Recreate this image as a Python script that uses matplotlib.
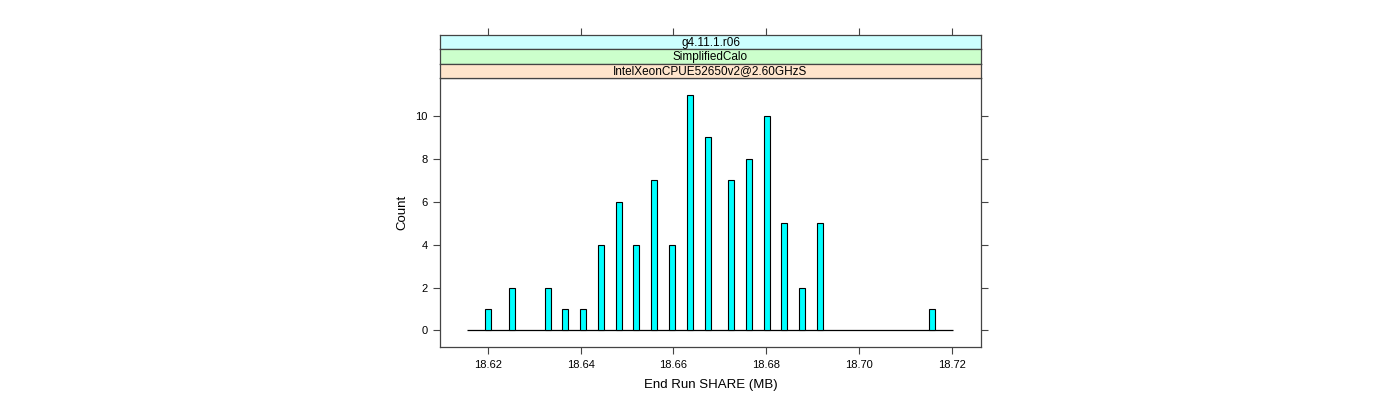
import numpy as np
import matplotlib.pyplot as plt

plt.rcParams['font.family'] = ['Liberation Sans', 'DejaVu Sans']

# histogram bars (bin centres, MB) and counts
share_mb = [18.6201, 18.6252, 18.6329, 18.6367, 18.6405, 18.6443, 18.6482,
            18.6520, 18.6559, 18.6597, 18.6635, 18.6674, 18.6725, 18.6762,
            18.6801, 18.6839, 18.6878, 18.6916, 18.7158]
counts = [1, 2, 2, 1, 1, 4, 6, 4, 7, 4, 11, 9, 7, 8, 10, 5, 2, 5, 1]
bin_width = 0.00128
hist_range = [18.6155, 18.7203]

strip_labels = ['g4.11.1.r06', 'SimplifiedCalo', 'IntelXeonCPUE52650v2@2.60GHzS']
strip_colors = ['#ccffff', '#ccffcc', '#ffe5cc']

x_ticks = [18.62, 18.64, 18.66, 18.68, 18.70, 18.72]
y_ticks = [0, 2, 4, 6, 8, 10]
xlim = (18.6097, 18.7263)
ylim = (-0.77, 11.77)

frame_col = '#444444'

fig = plt.figure(figsize=(14, 4), dpi=100)

# main panel
W, H = 1400., 400.
left, right, top, bottom = 440, 981, 78, 347
ax = fig.add_axes([left / W, 1 - bottom / H, (right - left) / W, (bottom - top) / H])

ax.bar(share_mb, counts, width=bin_width, color='#00ffff', edgecolor='black',
       linewidth=0.8, zorder=3)
ax.hlines(0, hist_range[0], hist_range[1], color='black', linewidth=0.9, zorder=2)

ax.set_xlim(xlim)
ax.set_ylim(ylim)
ax.set_xticks(x_ticks)
ax.set_xticklabels([f'{t:.2f}' for t in x_ticks])
ax.set_yticks(y_ticks)
ax.tick_params(axis='both', direction='out', length=5, width=0.8, color=frame_col,
               labelsize=8, pad=4)
ax.tick_params(axis='y', right=True, labelright=False)
for s in ax.spines.values():
    s.set_color(frame_col)
    s.set_linewidth(0.9)
ax.set_xlabel('End Run SHARE (MB)', fontsize=9.5, labelpad=7)
ax.set_ylabel('Count', fontsize=9.5, labelpad=5)

# strips on top of the panel
strip_h = 14.4
for i, (lab, col) in enumerate(zip(strip_labels, strip_colors)):
    y_top = top - (3 - i) * strip_h
    sax = fig.add_axes([left / W, 1 - (y_top + strip_h) / H, (right - left) / W, strip_h / H])
    sax.set_facecolor(col)
    sax.set_xlim(xlim)
    sax.set_ylim(0, 1)
    sax.text(0.5, 0.45, lab, transform=sax.transAxes, ha='center', va='center', fontsize=8.5)
    sax.set_yticks([])
    if i == 0:
        sax.set_xticks(x_ticks)
        sax.tick_params(axis='x', bottom=False, labelbottom=False, top=True, labeltop=False,
                        direction='out', length=5, width=0.8, color=frame_col)
    else:
        sax.set_xticks([])
    for s in sax.spines.values():
        s.set_color(frame_col)
        s.set_linewidth(0.9)

fig.savefig('out.png', dpi=100)
